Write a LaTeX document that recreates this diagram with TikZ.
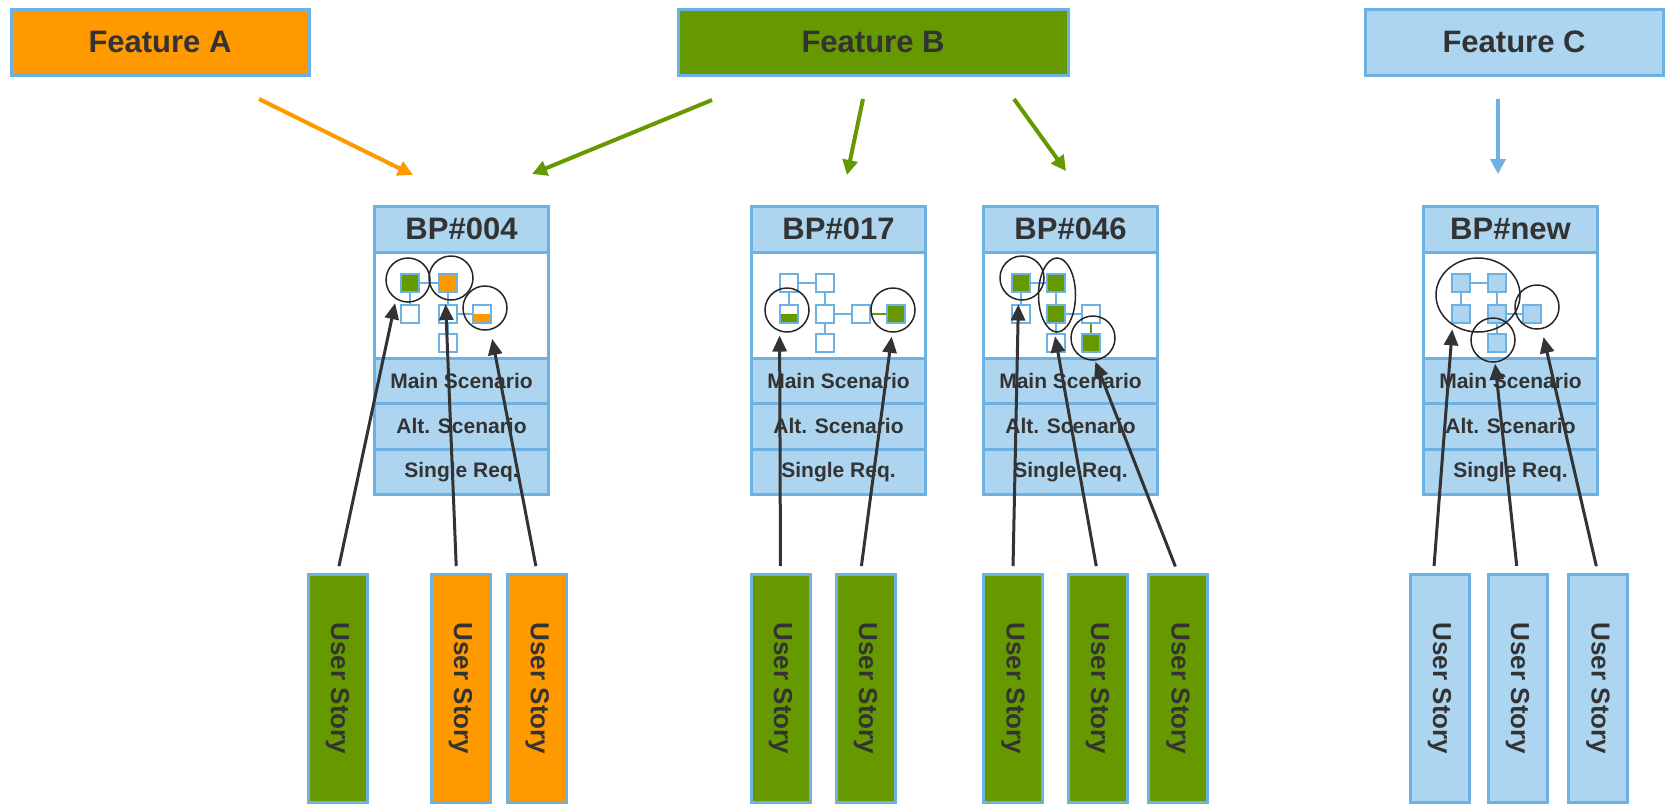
\documentclass[tikz,border=0pt]{standalone}
\usepackage{fontspec}
\setmainfont{Liberation Sans}
\usepackage{graphicx}
\usetikzlibrary{positioning, arrows.meta, shapes.geometric}

\definecolor{featorange}{HTML}{FF9900}
\definecolor{featgreen}{HTML}{669900}
\definecolor{featblue}{HTML}{ADD5F0}
\definecolor{edgeblue}{HTML}{6DB1E3}
\definecolor{darktext}{HTML}{333333}

\tikzset{
	feature/.style={draw=edgeblue, line width=3pt, minimum width=298pt, minimum height=66pt, text=darktext, font=\fontsize{31}{36}\selectfont\bfseries},
	bphead/.style={draw=edgeblue, line width=3pt, fill=featblue, minimum width=174pt, minimum height=46pt, outer sep=0pt, text=darktext, font=\fontsize{31}{36}\selectfont\bfseries},
	bparea/.style={draw=edgeblue, line width=3pt, fill=white, minimum width=174pt, minimum height=106pt, outer sep=0pt},
	bprow/.style={draw=edgeblue, line width=3pt, fill=featblue, minimum width=174pt, minimum height=45.5pt, outer sep=0pt, text=darktext, font=\fontsize{21}{25}\selectfont\bfseries},
	story/.style={draw=edgeblue, line width=3pt, minimum width=59pt, minimum height=228pt, text=darktext, font=\fontsize{26}{30}\selectfont\bfseries},
	sq/.style={draw=edgeblue, line width=2pt, minimum size=18pt, inner sep=0pt, fill=white},
	halfsq/.style={sq, path picture={\fill[#1] (path picture bounding box.west) rectangle (path picture bounding box.south east);}},
	link/.style={draw=edgeblue, line width=2pt},
	ring/.style={draw=black!85, line width=1.5pt, circle, minimum size=44pt, inner sep=0pt},
	usarrow/.style={draw=black!80, line width=3pt, -{Triangle[length=16pt,width=14pt]}, shorten <=7pt, shorten >=4pt},
	featarrow/.style={line width=4pt, -{Triangle[length=15pt,width=15pt]}}
}

\begin{document}
\begin{tikzpicture}[x=1pt, y=-1pt]
	\useasboundingbox (0,0) rectangle (1666,807);

	\node[feature, fill=featorange] (featA) at (160,42) {Feature A};
	\node[feature, fill=featgreen, minimum width=390pt] (featB) at (873,42) {Feature B};
	\node[feature, fill=featblue] (featC) at (1514,42) {Feature C};

	\coordinate (fa0) at (259,99);
	\coordinate (fa1) at (413,175);
	\coordinate (fb0) at (712,100);
	\coordinate (fb1) at (532,174);
	\coordinate (fb2) at (863,99);
	\coordinate (fb3) at (847,175);
	\coordinate (fb4) at (1014,99);
	\coordinate (fb5) at (1066,171);
	\coordinate (fc0) at (1498,99);
	\coordinate (fc1) at (1498,174);
	\draw[featarrow, featorange] (fa0) -- (fa1);
	\draw[featarrow, featgreen] (fb0) -- (fb1);
	\draw[featarrow, featgreen] (fb2) -- (fb3);
	\draw[featarrow, featgreen] (fb4) -- (fb5);
	\draw[featarrow, edgeblue] (fc0) -- (fc1);

	% business processes
	\node[bphead] (bp4) at (461.5,229) {BP\#004};
	\node[bparea, below=0pt of bp4] (bp4a) {};
	\node[bprow, below=0pt of bp4a] (bp4m) {Main Scenario};
	\node[bprow, below=0pt of bp4m] (bp4l) {Alt. Scenario};
	\node[bprow, below=0pt of bp4l] (bp4s) {Single Req.};

	\node[bphead] (bp17) at (838.5,229) {BP\#017};
	\node[bparea, below=0pt of bp17] (bp17a) {};
	\node[bprow, below=0pt of bp17a] (bp17m) {Main Scenario};
	\node[bprow, below=0pt of bp17m] (bp17l) {Alt. Scenario};
	\node[bprow, below=0pt of bp17l] (bp17s) {Single Req.};

	\node[bphead] (bp46) at (1070.5,229) {BP\#046};
	\node[bparea, below=0pt of bp46] (bp46a) {};
	\node[bprow, below=0pt of bp46a] (bp46m) {Main Scenario};
	\node[bprow, below=0pt of bp46m] (bp46l) {Alt. Scenario};
	\node[bprow, below=0pt of bp46l] (bp46s) {Single Req.};

	\node[bphead] (bpnew) at (1510.5,229) {BP\#new};
	\node[bparea, below=0pt of bpnew] (bpnewa) {};
	\node[bprow, below=0pt of bpnewa] (bpnewm) {Main Scenario};
	\node[bprow, below=0pt of bpnewm] (bpnewl) {Alt. Scenario};
	\node[bprow, below=0pt of bpnewl] (bpnews) {Single Req.};

	% BP#004 sketch
	\node[sq, fill=featgreen] (p4a) at (410,283) {};
	\node[sq, fill=featorange] (p4b) at (448,283) {};
	\node[sq] (p4c) at (410,314) {};
	\node[sq] (p4d) at (448,314) {};
	\node[halfsq=featorange] (p4e) at (482,314) {};
	\node[sq] (p4f) at (448,343) {};
	\draw[link] (p4a) -- (p4b) (p4a) -- (p4c) (p4b) -- (p4d) (p4d) -- (p4e) (p4d) -- (p4f);
	\node[ring] (r4a) at (408,280) {};
	\node[ring] (r4b) at (451,278) {};
	\node[ring] (r4c) at (485,308) {};

	% BP#017 sketch
	\node[sq] (p17a) at (789,283) {};
	\node[sq] (p17b) at (825,283) {};
	\node[halfsq=featgreen] (p17c) at (789,314) {};
	\node[sq] (p17d) at (825,314) {};
	\node[sq] (p17e) at (861,314) {};
	\node[sq, fill=featgreen] (p17f) at (896,314) {};
	\node[sq] (p17g) at (825,343) {};
	\draw[link] (p17a) -- (p17b) (p17a) -- (p17c) (p17b) -- (p17d) (p17d) -- (p17e) (p17d) -- (p17g);
	\draw[link, featgreen] (p17e) -- (p17f);
	\node[ring] (r17a) at (787,310) {};
	\node[ring] (r17b) at (893,310) {};

	% BP#046 sketch
	\node[sq, fill=featgreen] (p46a) at (1021,283) {};
	\node[sq, fill=featgreen] (p46b) at (1056,283) {};
	\node[sq] (p46c) at (1021,314) {};
	\node[sq, fill=featgreen] (p46d) at (1056,314) {};
	\node[sq] (p46e) at (1091,314) {};
	\node[sq, fill=featgreen] (p46f) at (1091,343) {};
	\node[sq] (p46g) at (1056,343) {};
	\draw[link] (p46a) -- (p46b) (p46a) -- (p46c) (p46b) -- (p46d) (p46d) -- (p46e) (p46d) -- (p46g);
	\draw[link, featgreen] (p46e) -- (p46f);
	\node[ring] (r46a) at (1022,278) {};
	\node[ring, ellipse, minimum width=37pt, minimum height=74pt] (r46b) at (1057,295) {};
	\node[ring] (r46c) at (1093,338) {};

	% BP#new sketch
	\node[sq, fill=featblue] (pna) at (1461,283) {};
	\node[sq, fill=featblue] (pnb) at (1497,283) {};
	\node[sq, fill=featblue] (pnc) at (1461,314) {};
	\node[sq, fill=featblue] (pnd) at (1497,314) {};
	\node[sq, fill=featblue] (pne) at (1532,314) {};
	\node[sq, fill=featblue] (pnf) at (1497,343) {};
	\draw[link] (pna) -- (pnb) (pna) -- (pnc) (pnb) -- (pnd) (pnd) -- (pne) (pnd) -- (pnf);
	\node[ring, ellipse, minimum width=84pt, minimum height=74pt] (rna) at (1478,295) {};
	\node[ring] (rnb) at (1537,307) {};
	\node[ring] (rnc) at (1493,340) {};

	% user stories
	\node[story, fill=featgreen] (u4a) at (337.5,688.5) {\rotatebox{-90}{User Story}};
	\node[story, fill=featorange] (u4b) at (460.5,688.5) {\rotatebox{-90}{User Story}};
	\node[story, fill=featorange] (u4c) at (537.2,688.5) {\rotatebox{-90}{User Story}};
	\node[story, fill=featgreen] (u17a) at (780.5,688.5) {\rotatebox{-90}{User Story}};
	\node[story, fill=featgreen] (u17b) at (865.5,688.5) {\rotatebox{-90}{User Story}};
	\node[story, fill=featgreen] (u46a) at (1012.9,688.5) {\rotatebox{-90}{User Story}};
	\node[story, fill=featgreen] (u46b) at (1097.5,688.5) {\rotatebox{-90}{User Story}};
	\node[story, fill=featgreen] (u46c) at (1177.9,688.5) {\rotatebox{-90}{User Story}};
	\node[story, fill=featblue] (una) at (1439.5,688.5) {\rotatebox{-90}{User Story}};
	\node[story, fill=featblue] (unb) at (1517.5,688.5) {\rotatebox{-90}{User Story}};
	\node[story, fill=featblue] (unc) at (1597.9,688.5) {\rotatebox{-90}{User Story}};

	\draw[usarrow] (u4a.north) -- (r4a.238);
	\draw[usarrow] ([xshift=-4pt]u4b.north) -- (r4b.256);
	\draw[usarrow, shorten >=9pt] (u4c.north) -- (r4c.284);
	\draw[usarrow] (u17a.north) -- (r17a.251);
	\draw[usarrow] ([xshift=-5pt]u17b.north) -- (r17b.268);
	\draw[usarrow] (u46a.north) -- (r46a.261);
	\draw[usarrow] (u46b.north) -- (r46b.266);
	\draw[usarrow, shorten >=1pt] (u46c.north) -- (r46c.275);
	\draw[usarrow] ([xshift=-6pt]una.north) -- (rna.230);
	\draw[usarrow, shorten >=1pt] (unb.north) -- (rnc.275);
	\draw[usarrow, shorten >=8pt] (unc.north) -- (rnb.282);
\end{tikzpicture}
\end{document}
